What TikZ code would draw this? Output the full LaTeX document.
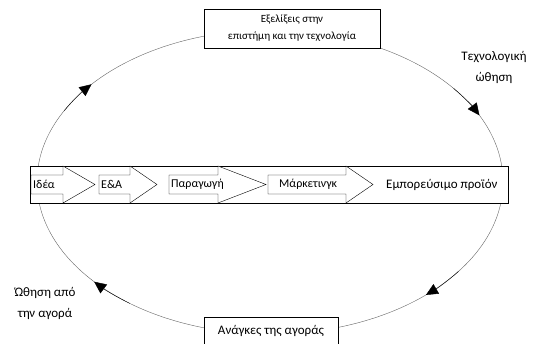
\documentclass[tikz,border=0pt]{standalone}
\usepackage{fontspec}
\setmainfont{Carlito}
\usetikzlibrary{arrows.meta}

% block arrow of the chain: name, body left, body right, tip, text
\newcommand{\stagearrow}[5]{%
  \draw[stage] (#2,175) -- (#3,175) -- (#3,166) -- (#4,184.5) -- (#3,203) -- (#3,194) -- (#2,194) -- cycle;
  \node[stagetext, anchor=west] (#1) at ({#2+2},184.5) {#5};
}

\begin{document}
\begin{tikzpicture}[x=1pt, y=-1pt,
  box/.style={rectangle, draw, fill=white, align=center, font=\fontsize{11}{17}\selectfont},
  side/.style={align=center, font=\fontsize{13}{21}\selectfont},
  stage/.style={draw, fill=white},
  stagetext/.style={inner sep=0pt, font=\fontsize{12}{13}\selectfont},
  flow/.style={-{Triangle[length=12pt,width=11pt]}}
]
  \useasboundingbox[fill=white] (0,0) rectangle (537,343);

  % the cycle
  \draw[gray!80!black] (270,182) ellipse[x radius=233, y radius=152];

  % arrow heads on the cycle (clockwise)
  \draw[flow] (270,182) ++(322:233 and 152) arc[start angle=322, end angle=334, x radius=233, y radius=152];
  \draw[flow] (270,182) ++(36:233 and 152) arc[start angle=36, end angle=48, x radius=233, y radius=152];
  \draw[flow] (270,182) ++(127:233 and 152) arc[start angle=127, end angle=139, x radius=233, y radius=152];
  \draw[flow] (270,182) ++(208:233 and 152) arc[start angle=208, end angle=220, x radius=233, y radius=152];

  % top and bottom boxes
  \node[box, minimum width=176, minimum height=39] (science) at (292,28.5) {Εξελίξεις στην\\επιστήμη και την τεχνολογία};
  \node[box, minimum width=134, minimum height=28, font=\fontsize{13}{15}\selectfont] (needs) at (271,331) {Ανάγκες της αγοράς};

  % side labels
  \node[side] (techpush) at (494,67) {Τεχνολογική\\ώθηση};
  \node[side] (marketpull) at (45,303) {Ώθηση από\\την αγορά};

  % the chain from idea to product
  \node[draw, fill=white, minimum width=478, minimum height=37, inner sep=0pt] (strip) at (269,184.5) {};
  \stagearrow{idea}{31}{63}{95}{Ιδέα}
  \stagearrow{rnd}{99}{130}{157}{Ε\&Α}
  \stagearrow{production}{169}{218}{266}{Παραγωγή}
  \stagearrow{marketing}{268}{346}{373}{\hspace{9pt}Μάρκετινγκ}
  \node[stagetext, anchor=west, font=\fontsize{13}{15}\selectfont] (product) at (386,184.5) {Εμπορεύσιμο προϊόν};
\end{tikzpicture}
\end{document}
